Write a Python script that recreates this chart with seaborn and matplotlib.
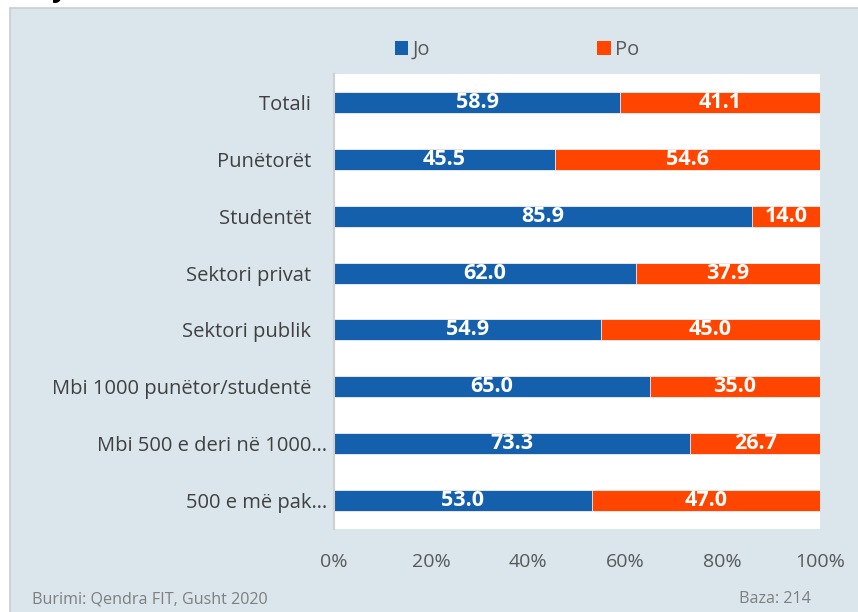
import numpy as np
import pandas as pd
import seaborn as sns
import matplotlib.pyplot as plt
from matplotlib.patches import Patch, Rectangle

# te dhenat
kategorite = ["Totali   ", "Punëtorët   ", "Studentët   ", "Sektori privat   ",
              "Sektori publik   ", "Mbi 1000 punëtor/studentë   ",
              "Mbi 500 e deri në 1000…", "500 e më pak…"]
jo = [58.9, 45.5, 85.9, 62.0, 54.9, 65.0, 73.3, 53.0]
po = [41.1, 54.6, 14.0, 37.9, 45.0, 35.0, 26.7, 47.0]
x_ticks = [0, 20, 40, 60, 80, 100]
x_labels = ["0%", "20%", "40%", "60%", "80%", "100%"]

blu = "#1560AC"
portokalli = "#FF4500"
sfondi = "#DAE5EC"

df = pd.DataFrame({"kat": kategorite, "Jo": jo, "Po": po})
df["tot"] = df["Jo"] + df["Po"]
df["jo_pct"] = df["Jo"] / df["tot"] * 100
df["po_pct"] = df["Po"] / df["tot"] * 100
df["plot_tot"] = df["jo_pct"] + df["po_pct"]

sns.set_style("white")
plt.rcParams["font.family"] = ["Open Sans", "DejaVu Sans"]

fig = plt.figure(figsize=(8.58, 6.12), dpi=100)
fig.patch.set_facecolor("white")
# paneli blu i hapur
fig.patches.append(Rectangle((10 / 858, -0.01), 1.0, 1 - 8 / 612 + 0.01,
                             transform=fig.transFigure, facecolor=sfondi,
                             edgecolor="#C9CDD0", linewidth=1.2, zorder=-5))
fig.text(52 / 858, 1.006, "y", fontsize=20, fontweight="bold", color="black",
         va="baseline")

ax = fig.add_axes([334 / 858, 1 - 529 / 612, (820 - 334) / 858, (529 - 74) / 612])
ax.set_facecolor("white")

sns.barplot(data=df, x="plot_tot", y="kat", orient="h", color=portokalli,
            saturation=1, width=0.37, edgecolor="#F2F2F2", linewidth=0.6, ax=ax)
sns.barplot(data=df, x="jo_pct", y="kat", orient="h", color=blu,
            saturation=1, width=0.37, edgecolor="#F2F2F2", linewidth=0.6, ax=ax)

for i, r in df.iterrows():
    ax.text(r["jo_pct"] / 2, i, f"{r['Jo']:.1f}", ha="center", va="center",
            color="white", fontsize=15.5, fontweight="bold")
    ax.text(r["jo_pct"] + r["po_pct"] / 2, i, f"{r['Po']:.1f}", ha="center",
            va="center", color="white", fontsize=15.5, fontweight="bold")

ax.set_xlim(0, 100)
ax.set_ylim(7.5, -0.5)
ax.set_xticks(x_ticks)
ax.set_xticklabels(x_labels)
ax.set_xlabel("")
ax.set_ylabel("")
ax.tick_params(axis="y", length=0, pad=5, labelsize=14.5, labelcolor="#404040")
ax.tick_params(axis="x", length=0, pad=17, labelsize=14, labelcolor="#595959")
for s in ["top", "right", "bottom"]:
    ax.spines[s].set_visible(False)
ax.spines["left"].set_color("#D0D0D0")
ax.spines["left"].set_linewidth(1.5)

handles = [Patch(facecolor=blu, edgecolor="none", label="Jo"),
           Patch(facecolor=portokalli, edgecolor="none", label="Po")]
fig.legend(handles=handles, loc="center left", bbox_to_anchor=(395 / 858, 1 - 50 / 612),
           ncol=2, frameon=False, fontsize=14.5, handlelength=0.67, handleheight=0.67,
           handletextpad=0.2, columnspacing=8.3, borderpad=0, borderaxespad=0,
           labelcolor="#595959")

fig.text(32 / 858, 1 - 599 / 612, "Burimi: Qendra FIT, Gusht 2020", fontsize=11.6,
         color="#7F7F7F", va="center")
fig.text(775 / 858, 1 - 599 / 612, "Baza: 214", fontsize=11.6, color="#7F7F7F",
         va="center", ha="center")

plt.savefig("out.png", dpi=100)
